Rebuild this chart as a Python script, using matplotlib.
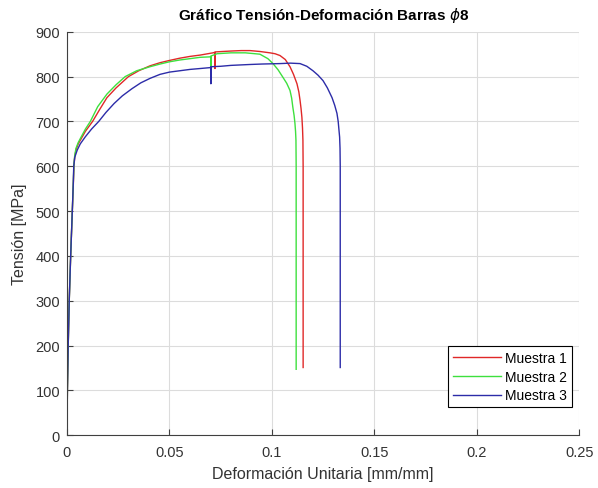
import matplotlib
matplotlib.use("Agg")
import matplotlib.pyplot as plt

plt.rcParams['font.family'] = ['Liberation Sans', 'DejaVu Sans']
plt.rcParams['mathtext.fontset'] = 'dejavusans'

# Muestra 1
strain1 = [0, 0.0002, 0.0006, 0.0011, 0.0018, 0.0026, 0.0031, 0.0034, 0.0038, 0.0045,
           0.0055, 0.0070, 0.009, 0.0125, 0.016, 0.0195, 0.024, 0.030, 0.035, 0.0405,
           0.0454, 0.050, 0.055, 0.060, 0.065, 0.0712, 0.0721, 0.0722, 0.0723, 0.076,
           0.080, 0.085, 0.0893, 0.0941, 0.099, 0.1015, 0.1039, 0.1065, 0.1088, 0.1105,
           0.1122, 0.1131, 0.1137, 0.1142, 0.1146, 0.1149, 0.1151, 0.1152, 0.1152]
stress1 = [0, 100, 200, 300, 400, 500, 560, 600, 622, 638,
           650, 662, 678, 700, 727, 753, 775, 800, 813, 824,
           831, 836, 841, 845, 848, 853, 854, 818, 855, 856,
           857, 858, 858, 856, 853, 851, 847, 838, 822, 805,
           784, 766, 747, 728, 709, 685, 658, 600, 151]

# Muestra 2
strain2 = [0, 0.0002, 0.0006, 0.0011, 0.0018, 0.0026, 0.0031, 0.0034, 0.0038, 0.0044,
           0.0055, 0.0070, 0.009, 0.0114, 0.015, 0.0195, 0.024, 0.0284, 0.034, 0.0405,
           0.0454, 0.050, 0.055, 0.060, 0.065, 0.0698, 0.0701, 0.0702, 0.0703, 0.0732,
           0.080, 0.087, 0.0941, 0.098, 0.1005, 0.103, 0.1054, 0.1072, 0.1088, 0.1096,
           0.1102, 0.1108, 0.1112, 0.1115, 0.1117, 0.1118, 0.1118]
stress2 = [0, 100, 200, 300, 400, 500, 565, 605, 625, 640,
           653, 666, 683, 700, 733, 761, 782, 800, 813, 822,
           828, 833, 837, 840, 843, 844, 845, 820, 846, 851,
           853, 853, 850, 840, 829, 815, 798, 785, 769, 752,
           731, 713, 696, 678, 658, 600, 147]

# Muestra 3
strain3 = [0, 0.0002, 0.0006, 0.0011, 0.0018, 0.0026, 0.0031, 0.0033, 0.0038, 0.0050,
           0.0065, 0.009, 0.012, 0.0155, 0.019, 0.023, 0.027, 0.0317, 0.036, 0.0405,
           0.0454, 0.050, 0.055, 0.060, 0.065, 0.0698, 0.0701, 0.0702, 0.0703, 0.075,
           0.080, 0.0893, 0.095, 0.1039, 0.109, 0.1137, 0.117, 0.120, 0.1225, 0.1249,
           0.127, 0.1293, 0.1306, 0.1317, 0.1323, 0.1327, 0.1330, 0.1332, 0.1333, 0.1333]
stress3 = [0, 100, 200, 300, 400, 500, 565, 600, 620, 636,
           650, 666, 683, 700, 720, 740, 757, 773, 786, 796,
           805, 810, 813, 816, 818, 820, 821, 784, 822, 823,
           825, 827, 828, 829, 830, 829, 823, 813, 803, 791,
           775, 753, 736, 718, 700, 680, 665, 640, 600, 151]

labels = ['Muestra 1', 'Muestra 2', 'Muestra 3']
colors = ['#e02828', '#3ee03e', '#2c2ca8']

xticks = [0, 0.05, 0.1, 0.15, 0.2, 0.25]
xticklabels = ['0', '0.05', '0.1', '0.15', '0.2', '0.25']
yticks = list(range(0, 901, 100))

fig = plt.figure(figsize=(5.98, 4.89), dpi=100)
ax = fig.add_axes([0.112, 0.108, 0.857, 0.825])

for s, t, lab, c in zip([strain1, strain2, strain3], [stress1, stress2, stress3], labels, colors):
    ax.plot(s, t, color=c, lw=1.0, label=lab)

ax.set_xlim(0, 0.25)
ax.set_ylim(0, 900)
ax.set_xticks(xticks)
ax.set_xticklabels(xticklabels)
ax.set_yticks(yticks)
ax.grid(True, color='#dcdcdc', lw=0.8)
ax.set_axisbelow(True)
for sp in ['top', 'right']:
    ax.spines[sp].set_visible(False)
for sp in ['left', 'bottom']:
    ax.spines[sp].set_color('#404040')
ax.tick_params(direction='in', length=4, color='#404040', labelcolor='#333333', labelsize=10.5)
ax.tick_params(axis='x', pad=7)
ax.tick_params(axis='y', pad=5)

ax.set_xlabel('Deformación Unitaria [mm/mm]', fontsize=11.5, color='#333333', labelpad=5)
ax.set_ylabel('Tensión [MPa]', fontsize=11.5, color='#333333', labelpad=6)
ax.set_title(r'Gráfico Tensión-Deformación Barras $\phi$8', fontsize=11, fontweight='bold', pad=9)

leg = ax.legend(loc='lower right', bbox_to_anchor=(0.986, 0.069), fontsize=10, frameon=True,
                fancybox=False, edgecolor='black', framealpha=1, handlelength=3.4,
                borderpad=0.35, labelspacing=0.35, handletextpad=0.35, borderaxespad=0.0)
leg.get_frame().set_linewidth(0.8)

fig.savefig('out.png', dpi=100)
